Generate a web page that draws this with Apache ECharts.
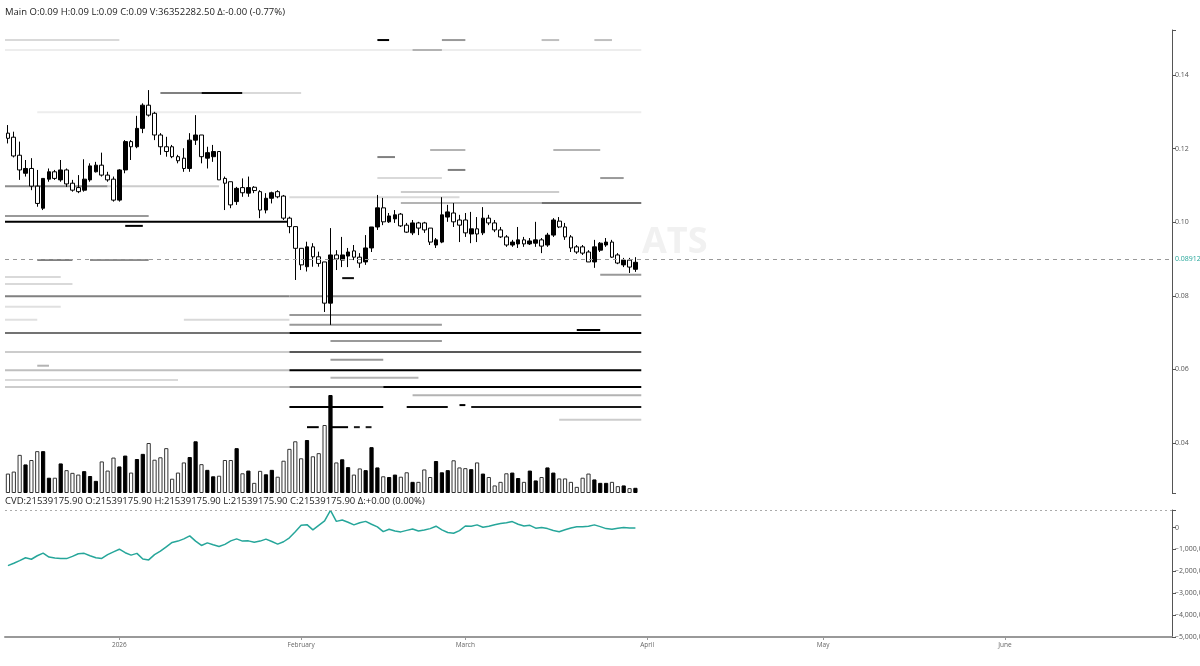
<!DOCTYPE html>
<html><head><meta charset="utf-8">
<script src="https://cdn.jsdelivr.net/npm/echarts@6/dist/echarts.min.js"></script>
<style>html,body{margin:0;padding:0;background:#fff}#c{width:1200px;height:666px}</style>
</head><body><div id="c"></div>
<script>
// ---------- data ----------
const startDate = '2025-12-13';
const endDate = '2026-06-29';
const monthTickLabels = {'2026-01-01':'2026','2026-02-01':'February','2026-03-01':'March','2026-04-01':'April','2026-05-01':'May','2026-06-01':'June'};
const priceTicks = [0.04,0.06,0.08,0.10,0.12,0.14];
const cvdTicks = [0,-1000000,-2000000,-3000000,-4000000,-5000000];
const lastPrice = 0.08912;

const open = [.1242,.1231,.1182,.1133,.1146,.1098,.1038,.1117,.1137,.1115,.1142,.1106,.1094,.1087,.1115,.1137,.1155,.1128,.1117,.1060,
.1142,.1219,.1205,.1255,.1318,.1296,.1237,.1205,.1205,.1178,.1174,.1146,.1223,.1237,.1174,.1178,.1192,.1119,.1110,.1056,
.1094,.1079,.1095,.1083,.1033,.1065,.1083,.1071,.1011,.0988,.0929,.0879,.0933,.0906,.0892,.0780,.0911,.0897,.0908,.0922,
.0905,.0892,.0930,.0987,.1039,.1001,.1009,.1022,.0992,.0971,.0998,.0998,.0984,.0938,.0946,.1014,.1025,.1006,.1006,.0968,
.0982,.0971,.1011,.0998,.0979,.0960,.0938,.0941,.0952,.0941,.0943,.0952,.0938,.0965,.1003,.0987,.0960,.0933,.0933,.0919,
.0892,.0924,.0938,.0946,.0911,.0884,.0897,.0872];
const close = [.1228,.1180,.1142,.1146,.1098,.1051,.1119,.1137,.1119,.1142,.1104,.1087,.1083,.1117,.1153,.1155,.1128,.1115,.1060,.1142,
.1219,.1205,.1255,.1318,.1291,.1237,.1205,.1192,.1178,.1167,.1146,.1223,.1237,.1178,.1189,.1192,.1115,.1106,.1047,.1092,
.1080,.1094,.1086,.1033,.1065,.1080,.1069,.1011,.0988,.0929,.0884,.0933,.0906,.0888,.0780,.0911,.0900,.0911,.0919,.0905,
.0889,.0930,.0987,.1039,.1001,.1017,.1020,.0990,.0973,.0998,.0984,.0979,.0946,.0952,.1020,.1028,.1001,.0992,.0971,.0982,
.0968,.1011,.0998,.0979,.0960,.0938,.0946,.0952,.0941,.0949,.0952,.0935,.0965,.1006,.0987,.0960,.0930,.0919,.0916,.0892,
.0933,.0943,.0946,.0905,.0889,.0897,.0878,.0891];
const low = [.1214,.1176,.1115,.1124,.1087,.1042,.1033,.1110,.1115,.1110,.1096,.1083,.1079,.1083,.1110,.1135,.1124,.1110,.1056,.1056,
.1133,.1169,.1201,.1242,.1287,.1223,.1183,.1178,.1174,.1160,.1137,.1137,.1210,.1160,.1146,.1164,.1115,.1033,.1038,.1047,
.1069,.1069,.1079,.1011,.1024,.1051,.1065,.1006,.0970,.0843,.0870,.0866,.0879,.0879,.0756,.0721,.0870,.0878,.0878,.0897,
.0876,.0884,.0919,.0979,.0992,.0998,.0998,.0987,.0971,.0965,.0965,.0971,.0938,.0930,.0943,.1001,.0987,.0946,.0960,.0943,
.0946,.0965,.0992,.0973,.0957,.0933,.0933,.0930,.0933,.0938,.0933,.0916,.0933,.0960,.0984,.0952,.0919,.0914,.0911,.0892,
.0876,.0919,.0933,.0903,.0886,.0878,.0862,.0865];
const high = [.1264,.1246,.1219,.1169,.1174,.1142,.1119,.1146,.1142,.1169,.1146,.1115,.1128,.1171,.1160,.1164,.1189,.1137,.1124,.1144,
.1223,.1223,.1289,.1323,.1359,.1300,.1242,.1232,.1210,.1183,.1201,.1242,.1291,.1237,.1205,.1210,.1192,.1124,.1110,.1096,
.1119,.1124,.1098,.1087,.1079,.1083,.1087,.1074,.1015,.0988,.0929,.0947,.0943,.0920,.0892,.0984,.0924,.0960,.0930,.0938,
.0916,.0965,.0987,.1074,.1066,.1025,.1033,.1025,.0998,.1006,.1001,.1001,.0984,.0957,.1068,.1047,.1052,.1020,.1025,.1028,
.1014,.1041,.1020,.1006,.0987,.0965,.0952,.0987,.0960,.0957,.1001,.0957,.0971,.1011,.1014,.0998,.0965,.0938,.0938,.0924,
.0952,.0946,.0957,.0952,.0916,.0903,.0903,.0905];
// volume in millions
const volume = [136,150,267,200,231,293,293,107,107,207,160,141,129,153,119,85,221,157,248,186,
262,143,238,274,350,233,250,314,100,143,214,252,362,202,162,117,121,231,231,314,
138,157,71,155,131,162,114,226,309,362,243,371,257,279,476,686,214,236,181,129,
172,160,321,179,117,112,129,114,145,78,78,165,112,224,145,160,229,179,174,167,
214,136,112,53,78,138,143,105,78,157,88,112,179,143,102,102,78,43,107,136,
95,71,71,78,48,53,34,36.35];
const cvd = [-1740000,-1630000,-1510000,-1380000,-1450000,-1290000,-1170000,-1350000,-1390000,-1410000,
-1420000,-1320000,-1200000,-1180000,-1290000,-1380000,-1410000,-1240000,-1110000,-990000,
-1150000,-1260000,-1180000,-1440000,-1480000,-1240000,-1080000,-880000,-680000,-620000,
-520000,-380000,-620000,-820000,-700000,-790000,-870000,-770000,-610000,-520000,
-620000,-610000,-670000,-620000,-530000,-640000,-760000,-650000,-470000,-190000,
100000,130000,-110000,100000,300000,780000,280000,340000,240000,120000,
220000,280000,150000,30000,-190000,-80000,-160000,-200000,-130000,-70000,
-160000,-110000,-50000,60000,-110000,-230000,-260000,-140000,70000,60000,
120000,10000,60000,130000,180000,220000,270000,150000,70000,100000,
-30000,0,-50000,-140000,-190000,-100000,-20000,30000,30000,60000,
120000,40000,-50000,-80000,-30000,0,-20000,-20000];
// liquidity levels: [start candle idx, end candle idx, price, shade 0=black..1=white]
const levels = [
[-0.5,19,0.1495,0.85],[63,65,0.1495,0.0],[74,78,0.1495,0.6],[91,94,0.1495,0.75],[100,103,0.1495,0.75],
[-0.5,108,0.1468,0.93],[69,74,0.1468,0.7],
[26,33,0.1351,0.5],[33,40,0.1351,0.05],[40,50,0.1351,0.85],
[5,108,0.1299,0.93],[72,78,0.1196,0.7],[93,101,0.1196,0.7],[63,66,0.1177,0.5],[75,78,0.1142,0.5],
[63,74,0.1120,0.85],[101,105,0.1120,0.6],[-0.5,17,0.1098,0.55],[17,36,0.1098,0.8],
[67,94,0.1082,0.8],[48,77,0.1068,0.85],[67,91,0.1052,0.7],[91,108,0.1052,0.45],
[-0.5,24,0.1017,0.6],[-0.5,48,0.1001,0.0],[20,23,0.0990,0.0],
[5,11,0.0897,0.5],[14,24,0.0897,0.55],[101,108,0.0857,0.6],[-0.5,9,0.0851,0.85],[57,59,0.0848,0.05],
[-0.5,11,0.0832,0.85],[-0.5,48,0.0799,0.5],[48,108,0.0799,0.55],[48,108,0.0748,0.6],[48,74,0.0721,0.6],
[-0.5,9,0.0770,0.88],[-0.5,5,0.0735,0.88],[30,48,0.0735,0.85],
[97,101,0.0707,0.0],[-0.5,48,0.0699,0.45],[48,108,0.0699,0.0],[55,74,0.0677,0.6],
[-0.5,48,0.0647,0.8],[48,108,0.0647,0.35],[55,64,0.0626,0.6],[5,7,0.0610,0.7],[-0.5,48,0.0598,0.75],[48,108,0.0598,0.0],
[55,70,0.0577,0.7],[-0.5,29,0.0571,0.85],[-0.5,48,0.0552,0.8],[48,64,0.0552,0.5],[64,108,0.0552,0.0],
[69,108,0.0530,0.7],[48,64,0.0498,0.0],[68,75,0.0498,0.05],[77,78,0.0503,0.0],[79,108,0.0498,0.1],
[94,108,0.0463,0.8],[51,53,0.0443,0.0],[55,58,0.0443,0.0],[59,60,0.0443,0.1],[61,62,0.0443,0.1]
];

// ---------- build ----------
const dates = [];
for (let t = Date.parse(startDate + 'T00:00:00Z'); t <= Date.parse(endDate + 'T00:00:00Z'); t += 86400000) {
  dates.push(new Date(t).toISOString().slice(0, 10));
}
const ohlc = open.map((o, i) => [o, close[i], low[i], high[i]]);
const volData = volume.map((v, i) => ({
  value: v,
  itemStyle: close[i] >= open[i] ? {color: '#000', borderColor: '#000', borderWidth: 1}
                                : {color: '#fff', borderColor: '#333', borderWidth: 1}
}));
const TEAL = '#26a69a';
const pMin = 0.02641, pMax = 0.15223;

const chart = echarts.init(document.getElementById('c'), null, {renderer: 'canvas'});
const hiddenX = (g) => ({type: 'category', gridIndex: g, data: dates, boundaryGap: true, show: false});
const gridBase = {left: 5, right: 28, containLabel: false, outerBoundsMode: 'none'};
chart.setOption({
  animation: false,
  backgroundColor: '#fff',
  textStyle: {fontFamily: 'Open Sans'},
  grid: [
    Object.assign({top: 30, height: 463}, gridBase),
    Object.assign({top: 395, height: 98}, gridBase),
    Object.assign({top: 510, height: 127}, gridBase)
  ],
  xAxis: [
    hiddenX(0), hiddenX(1),
    {type: 'category', gridIndex: 2, data: dates, boundaryGap: true, position: 'bottom',
     axisLine: {show: true, onZero: false, lineStyle: {color: '#999', width: 2}},
     axisTick: {show: true, length: 3, alignWithLabel: true, interval: (i, v) => v in monthTickLabels, lineStyle: {color: '#999'}},
     axisLabel: {interval: (i, v) => v in monthTickLabels, formatter: v => monthTickLabels[v] || '', fontSize: 6.5, color: '#666', margin: 5},
     splitLine: {show: false}}
  ],
  yAxis: [
    {type: 'value', gridIndex: 0, position: 'right', min: pMin, max: pMax, scale: true,
     axisLine: {show: true, lineStyle: {color: '#555'}},
     axisTick: {show: true, length: 4, customValues: [pMin].concat(priceTicks, [pMax]), lineStyle: {color: '#555'}},
     axisLabel: {customValues: priceTicks, formatter: v => v.toFixed(2), fontSize: 7, color: '#555', margin: 3},
     splitLine: {show: false}},
    {type: 'value', gridIndex: 1, min: 0, max: 686, show: false, splitLine: {show: false}},
    {type: 'value', gridIndex: 2, position: 'right', min: -5000000, max: 800000,
     axisLine: {show: true, lineStyle: {color: '#555'}},
     axisTick: {show: true, length: 4, customValues: cvdTicks.concat([800000]), lineStyle: {color: '#555'}},
     axisLabel: {customValues: cvdTicks, formatter: v => (v < 0 ? '\u2212' : '') + Math.abs(v).toLocaleString('en-US'), fontSize: 7, color: '#555', margin: 3},
     splitLine: {show: false}}
  ],
  series: [
    {type: 'custom', name: 'levels', xAxisIndex: 0, yAxisIndex: 0, z: 1, clip: true,
     encode: {x: 1, y: 2},
     data: levels,
     renderItem: (params, api) => {
       const s = api.value(0), e = api.value(1), p = api.value(2), sh = api.value(3);
       const bw = api.size([1, 0])[0];
       const base = api.coord([0, p]);
       const g = Math.round(sh * 255);
       return {type: 'line', shape: {x1: base[0] + s * bw, y1: base[1], x2: base[0] + e * bw, y2: base[1]},
               style: {stroke: 'rgb(' + g + ',' + g + ',' + g + ')', lineWidth: 2}};
     }},
    {type: 'candlestick', xAxisIndex: 0, yAxisIndex: 0, z: 3, barWidth: '72%', data: ohlc,
     itemStyle: {color: '#000', color0: '#fff', borderColor: '#000', borderColor0: '#000', borderWidth: 1},
     markLine: {symbol: 'none', silent: true, animation: false,
       data: [{yAxis: lastPrice}],
       lineStyle: {type: [4, 4], color: '#999', width: 1},
       label: {position: 'end', formatter: String(lastPrice), color: TEAL, fontSize: 7, distance: 3}}},
    {type: 'bar', xAxisIndex: 1, yAxisIndex: 1, z: 2, barWidth: '72%', data: volData},
    {type: 'line', xAxisIndex: 2, yAxisIndex: 2, data: cvd, symbol: 'none', z: 3,
     lineStyle: {color: TEAL, width: 1.5}, itemStyle: {color: TEAL},
     markLine: {symbol: 'none', silent: true, animation: false, data: [{type: 'max'}],
       lineStyle: {type: [2, 3], color: '#aaa', width: 1}, label: {show: false}}}
  ],
  graphic: [
    {type: 'text', left: 5, top: 7, z: 10, style: {text: 'Main O:0.09 H:0.09 L:0.09 C:0.09 V:36352282.50 Δ:-0.00 (-0.77%)', font: '9.5px "Open Sans"', fill: '#222'}},
    {type: 'text', left: 5, top: 496, z: 10, style: {text: 'CVD:21539175.90 O:21539175.90 H:21539175.90 L:21539175.90 C:21539175.90 Δ:+0.00 (0.00%)', font: '9.5px "Open Sans"', fill: '#222'}},
    {type: 'text', left: 642, top: 225, z: 0, style: {text: 'ATS', font: 'bold 36px "Open Sans"', fill: '#f1f1f1'}}
  ]
});
</script></body></html>
